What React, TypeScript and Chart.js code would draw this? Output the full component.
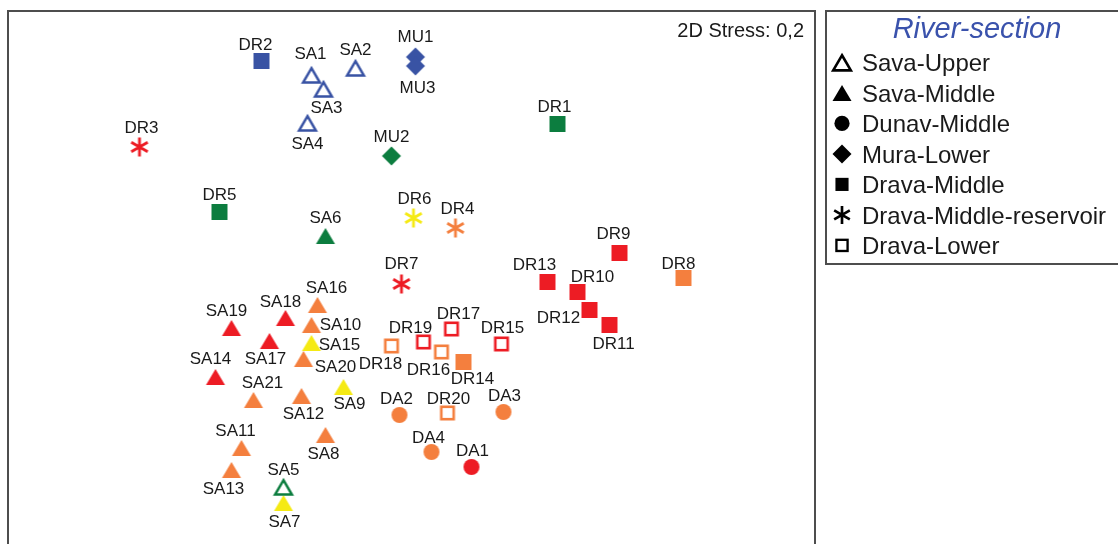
import React, { useEffect, useRef } from 'react';
import { Chart, registerables } from 'chart.js';

Chart.register(...registerables);

// ---------- DATA (NMDS coordinates) ----------
const groupNames = [
  'Sava-Upper',
  'Sava-Middle',
  'Dunav-Middle',
  'Mura-Lower',
  'Drava-Middle',
  'Drava-Middle-reservoir',
  'Drava-Lower',
];

const savaUpperLabels = ['SA1', 'SA2', 'SA3', 'SA4', 'SA5'];
const savaUpperX = [-0.5, -0.28, -0.44, -0.52, -0.64];
const savaUpperY = [0.875, 0.91, 0.805, 0.635, -1.185];
const savaUpperColors = ['blue', 'blue', 'blue', 'blue', 'green'];

const savaMiddleLabels = ['SA6', 'SA7', 'SA8', 'SA9', 'SA10', 'SA11', 'SA12', 'SA13', 'SA14', 'SA15', 'SA16', 'SA17', 'SA18', 'SA19', 'SA20', 'SA21'];
const savaMiddleX = [-0.43, -0.64, -0.43, -0.34, -0.5, -0.85, -0.55, -0.9, -0.98, -0.5, -0.47, -0.71, -0.63, -0.9, -0.54, -0.79];
const savaMiddleY = [0.07, -1.265, -0.925, -0.685, -0.375, -0.99, -0.73, -1.1, -0.635, -0.465, -0.275, -0.455, -0.34, -0.39, -0.545, -0.75];
const savaMiddleColors = ['green', 'yellow', 'orange', 'yellow', 'orange', 'orange', 'orange', 'orange', 'red', 'yellow', 'orange', 'red', 'red', 'red', 'orange', 'orange'];

const dunavLabels = ['DA1', 'DA2', 'DA3', 'DA4'];
const dunavX = [0.3, -0.06, 0.46, 0.1];
const dunavY = [-1.085, -0.825, -0.81, -1.01];
const dunavColors = ['red', 'orange', 'orange', 'orange'];

const muraLabels = ['MU1', 'MU2', 'MU3'];
const muraX = [0.02, -0.1, 0.02];
const muraY = [0.965, 0.47, 0.92];
const muraColors = ['blue', 'green', 'blue'];

const dravaMiddleLabels = ['DR1', 'DR2', 'DR5', 'DR8', 'DR9', 'DR10', 'DR11', 'DR12', 'DR13', 'DR14'];
const dravaMiddleX = [0.73, -0.75, -0.96, 1.36, 1.04, 0.83, 0.99, 0.89, 0.68, 0.26];
const dravaMiddleY = [0.63, 0.945, 0.19, -0.14, -0.015, -0.21, -0.375, -0.3, -0.16, -0.56];
const dravaMiddleColors = ['green', 'blue', 'green', 'orange', 'red', 'red', 'red', 'red', 'red', 'orange'];

const reservoirLabels = ['DR3', 'DR4', 'DR6', 'DR7'];
const reservoirX = [-1.36, 0.22, 0.01, -0.05];
const reservoirY = [0.515, 0.11, 0.16, -0.17];
const reservoirColors = ['red', 'orange', 'yellow', 'red'];

const dravaLowerLabels = ['DR15', 'DR16', 'DR17', 'DR18', 'DR19', 'DR20'];
const dravaLowerX = [0.45, 0.15, 0.2, -0.1, 0.06, 0.18];
const dravaLowerY = [-0.47, -0.51, -0.395, -0.48, -0.46, -0.815];
const dravaLowerColors = ['red', 'orange', 'red', 'orange', 'red', 'orange'];

const stressText = '2D Stress: 0,2';
const legendTitle = 'River-section';

// ---------- STYLE ----------
const PALETTE: Record<string, string> = {
  blue: '#3953a4',
  green: '#0c7d3f',
  red: '#ed1c24',
  orange: '#f47f3e',
  yellow: '#f5ea14',
};

const SHAPES = ['triangleOpen', 'triangle', 'circle', 'diamond', 'square', 'asterisk', 'squareOpen'];
const LEGEND_SCALE = [1.05, 1.0, 0.95, 1.0, 0.82, 0.95, 0.9];

// label text-centre offsets from the marker centre (px)
const LABEL_OFFSETS: Record<string, [number, number]> = {
  SA1: [-1, -22], SA2: [0, -19], SA3: [3, 18], SA4: [0, 20], SA5: [0, -18],
  SA6: [0, -19], SA7: [1, 18], SA8: [-2, 18], SA9: [6, 16], SA10: [29, -1],
  SA11: [-6, -18], SA12: [2, 17], SA13: [-8, 18], SA14: [-5, -19], SA15: [28, 1],
  SA16: [9, -18], SA17: [-4, 17], SA18: [-5, -17], SA19: [-5, -18], SA20: [32, 7],
  SA21: [9, -18],
  DA1: [1, -17], DA2: [-3, -17], DA3: [1, -17], DA4: [-3, -15],
  MU1: [0, -21], MU2: [0, -20], MU3: [2, 21],
  DR1: [-3, -18], DR2: [-6, -17], DR3: [2, -20], DR4: [2, -20], DR5: [0, -18],
  DR6: [1, -20], DR7: [0, -21], DR8: [-5, -15], DR9: [-6, -20], DR10: [15, -16],
  DR11: [4, 18], DR12: [-31, 7], DR13: [-13, -18], DR14: [9, 16], DR15: [1, -17],
  DR16: [-13, 17], DR17: [7, -16], DR18: [-11, 17], DR19: [-13, -15], DR20: [1, -15],
};

const SERIES = [
  { labels: savaUpperLabels, x: savaUpperX, y: savaUpperY, colors: savaUpperColors },
  { labels: savaMiddleLabels, x: savaMiddleX, y: savaMiddleY, colors: savaMiddleColors },
  { labels: dunavLabels, x: dunavX, y: dunavY, colors: dunavColors },
  { labels: muraLabels, x: muraX, y: muraY, colors: muraColors },
  { labels: dravaMiddleLabels, x: dravaMiddleX, y: dravaMiddleY, colors: dravaMiddleColors },
  { labels: reservoirLabels, x: reservoirX, y: reservoirY, colors: reservoirColors },
  { labels: dravaLowerLabels, x: dravaLowerX, y: dravaLowerY, colors: dravaLowerColors },
];

const FONT = '"Liberation Sans", Arial, Helvetica, sans-serif';

function drawShape(ctx: CanvasRenderingContext2D, shape: string, cx: number, cy: number, color: string, s: number) {
  ctx.save();
  ctx.fillStyle = color;
  ctx.strokeStyle = color;
  ctx.lineJoin = 'miter';
  ctx.beginPath();
  switch (shape) {
    case 'square':
      ctx.fillRect(cx - 8 * s, cy - 8 * s, 16 * s, 16 * s);
      break;
    case 'squareOpen':
      ctx.lineWidth = 2.6 * s;
      ctx.strokeRect(cx - 6.2 * s, cy - 6.2 * s, 12.4 * s, 12.4 * s);
      break;
    case 'triangle':
      ctx.moveTo(cx, cy - 8 * s);
      ctx.lineTo(cx + 9.5 * s, cy + 8 * s);
      ctx.lineTo(cx - 9.5 * s, cy + 8 * s);
      ctx.closePath();
      ctx.fill();
      break;
    case 'triangleOpen':
      ctx.lineWidth = 2.5 * s;
      ctx.moveTo(cx, cy - 6.8 * s);
      ctx.lineTo(cx + 8.4 * s, cy + 7.6 * s);
      ctx.lineTo(cx - 8.4 * s, cy + 7.6 * s);
      ctx.closePath();
      ctx.stroke();
      break;
    case 'circle':
      ctx.arc(cx, cy, 8 * s, 0, Math.PI * 2);
      ctx.fill();
      break;
    case 'diamond':
      ctx.moveTo(cx, cy - 9.5 * s);
      ctx.lineTo(cx + 9.5 * s, cy);
      ctx.lineTo(cx, cy + 9.5 * s);
      ctx.lineTo(cx - 9.5 * s, cy);
      ctx.closePath();
      ctx.fill();
      break;
    case 'asterisk': {
      ctx.lineWidth = 2.8 * s;
      const r = 9.5 * s;
      for (const a of [90, 30, 150]) {
        const rad = (a * Math.PI) / 180;
        ctx.moveTo(cx - Math.cos(rad) * r, cy - Math.sin(rad) * r);
        ctx.lineTo(cx + Math.cos(rad) * r, cy + Math.sin(rad) * r);
      }
      ctx.stroke();
      break;
    }
  }
  ctx.restore();
}

const markerCache: Record<string, HTMLCanvasElement> = {};
function marker(shape: string, color: string): HTMLCanvasElement {
  const key = shape + color;
  if (markerCache[key]) return markerCache[key];
  const c = document.createElement('canvas');
  c.width = 28;
  c.height = 28;
  const ctx = c.getContext('2d')!;
  drawShape(ctx, shape, 14, 14, color, 1);
  markerCache[key] = c;
  return c;
}

// plot frame geometry
const X_MIN = -2.0175;
const X_MAX = 2.0175;
const Y_MIN = -1.47;
const Y_MAX = 1.2;

const overlayPlugin = {
  id: 'overlay',
  afterDatasetsDraw(chart: any) {
    const ctx: CanvasRenderingContext2D = chart.ctx;
    const area = chart.chartArea;
    ctx.save();
    // point labels
    ctx.fillStyle = '#1a1a1a';
    ctx.font = `17px ${FONT}`;
    ctx.textAlign = 'center';
    ctx.textBaseline = 'alphabetic';
    chart.data.datasets.forEach((_ds: any, di: number) => {
      const meta = chart.getDatasetMeta(di);
      meta.data.forEach((el: any, i: number) => {
        const lbl = SERIES[di].labels[i];
        const off = LABEL_OFFSETS[lbl] || [0, -18];
        ctx.fillText(lbl, el.x + off[0], el.y + off[1] + 6.1);
      });
    });

    // frame (bottom edge lies below the visible page)
    ctx.strokeStyle = '#4d4d4d';
    ctx.lineWidth = 2;
    ctx.beginPath();
    ctx.moveTo(area.left, area.bottom + 10);
    ctx.lineTo(area.left, area.top + 1);
    ctx.lineTo(area.right, area.top + 1);
    ctx.lineTo(area.right, area.bottom + 10);
    ctx.stroke();

    // stress text
    ctx.fillStyle = '#1a1a1a';
    ctx.font = `20px ${FONT}`;
    ctx.textAlign = 'right';
    ctx.fillText(stressText, area.right - 11, 36.5);

    // legend box
    const lx = area.right + 11;
    ctx.strokeStyle = '#4d4d4d';
    ctx.lineWidth = 2;
    ctx.strokeRect(lx, area.top + 1, 400, 253);

    ctx.fillStyle = '#3a52ac';
    ctx.font = `italic 29px ${FONT}`;
    ctx.textAlign = 'center';
    ctx.fillText(legendTitle, lx + 151, 38);

    ctx.font = `24px ${FONT}`;
    ctx.textAlign = 'left';
    groupNames.forEach((name, i) => {
      const base = 71 + i * 30.5;
      drawShape(ctx, SHAPES[i], lx + 16, base - 8.6, '#000', LEGEND_SCALE[i]);
      ctx.fillStyle = '#1a1a1a';
      ctx.fillText(name, lx + 36, base);
    });
    ctx.restore();
  },
};

export default function App() {
  const ref = useRef<HTMLCanvasElement>(null);

  useEffect(() => {
    const canvas = ref.current!;
    const datasets = SERIES.map((s, gi) => ({
      label: groupNames[gi],
      data: s.x.map((x, i) => ({ x, y: s.y[i] })),
      pointStyle: s.colors.map((c) => marker(SHAPES[gi], PALETTE[c])),
      pointRadius: 10,
      showLine: false,
    }));
    const chart = new Chart(canvas, {
      type: 'scatter',
      data: { datasets } as any,
      options: {
        animation: false,
        responsive: false,
        events: [],
        layout: { autoPadding: false, padding: { left: 8, right: 303, top: 10, bottom: 0 } },
        scales: {
          x: { type: 'linear', display: false, min: X_MIN, max: X_MAX },
          y: { type: 'linear', display: false, min: Y_MIN, max: Y_MAX },
        },
        plugins: {
          legend: { display: false },
          tooltip: { enabled: false },
        },
      },
      plugins: [overlayPlugin],
    } as any);
    return () => chart.destroy();
  }, []);

  return (
    <div style={{ position: 'fixed', left: 0, top: 0, width: 1118, height: 544, background: '#fff', overflow: 'hidden' }}>
      <canvas ref={ref} width={1118} height={544} style={{ display: 'block' }} />
    </div>
  );
}
